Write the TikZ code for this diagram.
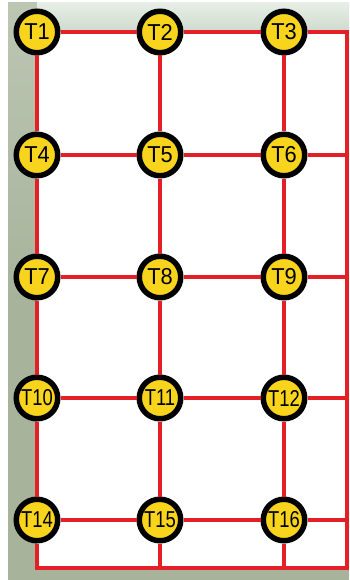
\documentclass[tikz,border=0pt]{standalone}
\usepackage{fontspec}
\setmainfont{Liberation Sans}
\newfontfamily\tagfont[FakeStretch=0.95]{Liberation Sans}
\newfontfamily\tagfontnarrow[FakeStretch=0.8]{Liberation Sans}
\definecolor{wirecol}{HTML}{E41F26}
\definecolor{tagcol}{HTML}{F9D41C}
\definecolor{wallcol}{HTML}{A8B39C}
\definecolor{walltop}{HTML}{BCC6B2}
\definecolor{bandtop}{HTML}{E6EEE6}
\definecolor{bandbot}{HTML}{CFDACD}

\begin{document}
\begin{tikzpicture}[x=1pt, y=-1pt,
  tag/.style={
    circle, draw=black, line width=5.5pt, fill=tagcol,
    minimum size=41.5pt, inner sep=0pt,
    font=\tagfont\fontsize{23}{23}\selectfont
  },
  tagnarrow/.style={tag, font=\tagfontnarrow\fontsize{23}{23}\selectfont},
  wire/.style={draw=wirecol, line width=4pt}
]

% ============ BACKGROUND ============
\useasboundingbox (0,0) rectangle (349,580);
\fill[wallcol] (8,3) rectangle (349,580);
\shade[top color=walltop, bottom color=wallcol] (8,3) rectangle (37,300);
\shade[top color=bandtop, bottom color=bandbot] (37,3) rectangle (349,32);
\fill[white] (37,32) rectangle (349,568);

% ============ TAGS ============
\foreach \n/\cx/\cy/\st in {
  1/37/32/tag, 2/160/32/tag, 3/284/32/tag,
  4/37/155/tag, 5/160/155/tag, 6/284/155/tag,
  7/37/277/tag, 8/160/277/tag, 9/284/277/tag,
  10/37/398/tagnarrow, 11/160/398/tagnarrow, 12/284/398/tagnarrow,
  14/37/520/tagnarrow, 15/160/520/tagnarrow, 16/284/520/tagnarrow}{
  \node[\st] (t\n) at (\cx,\cy) {T\n};
}

% free ends of the grid on the right and at the bottom
\foreach \r/\cy in {1/32, 2/155, 3/277, 4/398, 5/520}{
  \coordinate (r\r) at (347,\cy);
}
\coordinate (b1) at (37,568);
\coordinate (b2) at (160,568);
\coordinate (b3) at (284,568);
\coordinate (br) at (347,568);

% ============ WIRES ============
% rows
\foreach \a/\b/\c/\e in {t1/t2/t3/r1, t4/t5/t6/r2, t7/t8/t9/r3,
  t10/t11/t12/r4, t14/t15/t16/r5}{
  \draw[wire] (\a) -- (\b) -- (\c) -- (\e);
}
% left column, then round the outer frame
\draw[wire] (t1) -- (t4) -- (t7) -- (t10) -- (t14) -- (b1)
  -- (b2) -- (b3) -- (br) -- (r1) -- (t3);
% inner columns
\foreach \a/\b/\c/\d/\e/\f in {t2/t5/t8/t11/t15/b2, t3/t6/t9/t12/t16/b3}{
  \draw[wire] (\a) -- (\b) -- (\c) -- (\d) -- (\e) -- (\f);
}

\end{tikzpicture}
\end{document}
